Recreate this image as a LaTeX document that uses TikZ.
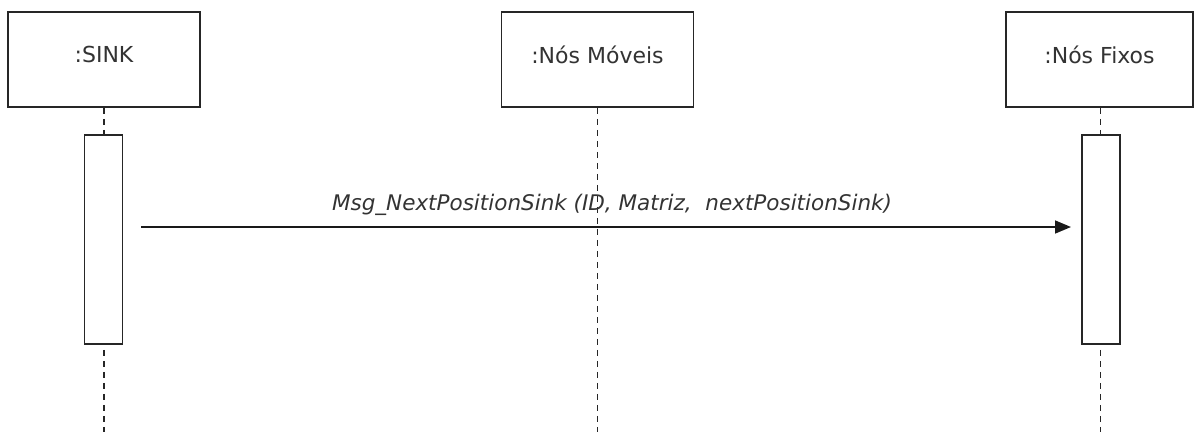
\documentclass[tikz,border=0pt]{standalone}
\usepackage{fontspec}
\setmainfont{DejaVu Sans}
\usetikzlibrary{arrows.meta}
\begin{document}
\begin{tikzpicture}[x=1pt,y=-1pt,
  objbox/.style={draw=black!85, line width=1.6pt, fill=white, minimum width=192pt,
    minimum height=95pt, inner sep=0pt},
  actbox/.style={draw=black!85, line width=1.6pt, fill=white, minimum width=38pt,
    minimum height=209pt, inner sep=0pt},
  lifeline/.style={draw=black!85, line width=1.5pt, dash pattern=on 6pt off 5pt},
  msg/.style={draw=black!90, line width=1.6pt, -{Triangle[length=16pt,width=13pt]}},
  lbl/.style={font=\fontsize{22}{26}\selectfont, text=black!80},
  msglbl/.style={font=\fontsize{21.5}{26}\selectfont\itshape, text=black!80, anchor=base},
]
\useasboundingbox (0,0) rectangle (1195,432);

% object heads
\node[objbox, label={[lbl, yshift=5pt]center:{:SINK}}] (sink) at (104,59.5) {};
\node[objbox, label={[lbl, yshift=5pt]center:{:Nós Móveis}}] (moveis) at (597.5,59.5) {};
\node[objbox, minimum width=187pt, label={[lbl, yshift=5pt]center:{:Nós Fixos}}] (fixos) at (1099.5,59.5) {};

% lifelines down to the bottom edge
\coordinate (sinkEnd) at (104,432);
\coordinate (moveisEnd) at (597.5,432);
\coordinate (fixosEnd) at (1100.5,432);
\draw[lifeline] (sink.south) -- (sinkEnd);
\draw[lifeline] (moveis.south) -- (moveisEnd);
\draw[lifeline] (fixos.south -| fixosEnd) -- (fixosEnd);

% activation bars
\node[actbox] (actS) at (103.5,239.5) {};
\node[actbox] (actF) at (1101,239.5) {};

% message
\coordinate (msgFrom) at (141,227);
\coordinate (msgTo) at (1071,227);
\draw[msg] (msgFrom) -- (msgTo);
\node[msglbl] (msgText) at (612,210) {Msg\_NextPositionSink (ID, Matriz,\ \ nextPositionSink)};
\end{tikzpicture}
\end{document}
